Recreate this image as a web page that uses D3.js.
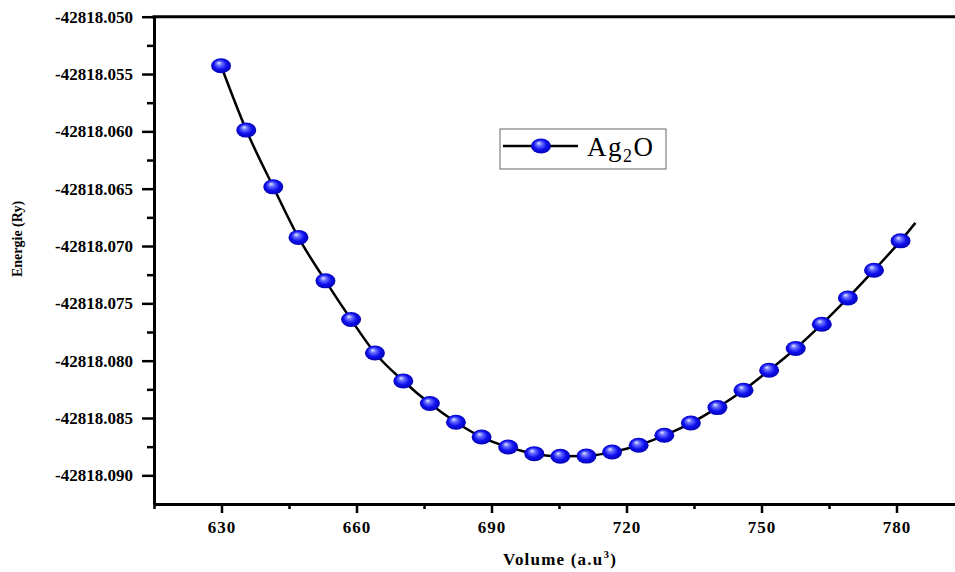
<!DOCTYPE html>
<html>
<head>
<meta charset="utf-8">
<script src="https://cdn.jsdelivr.net/npm/d3@7"></script>
<style>
  body { margin: 0; background: #fff; }
  svg { display: block; font-family: 'Liberation Serif', 'Times New Roman', serif; }
</style>
</head>
<body>
<div id="chart"></div>
<script>
// Ag2O energy vs volume
const volume = [629.9, 635.5, 641.5, 647.1, 653.1, 658.8, 664.1, 670.4, 676.3, 682.1,
    687.8, 693.7, 699.5, 705.3, 711.1, 716.8, 722.7, 728.4, 734.3, 740.2,
    746.0, 751.7, 757.6, 763.4, 769.2, 775.0, 780.9];
const energy = [-42818.05428, -42818.05989, -42818.06484, -42818.06925, -42818.07304,
    -42818.07641, -42818.07933, -42818.08177, -42818.08374, -42818.08537,
    -42818.08666, -42818.08753, -42818.08811, -42818.08834, -42818.08832,
    -42818.08797, -42818.08738, -42818.08651, -42818.08544, -42818.08409,
    -42818.08258, -42818.08084, -42818.07894, -42818.07682, -42818.07453,
    -42818.07211, -42818.06955];
// the fitted line runs a bit past the last point
const tailVolume = [784.2];
const tailEnergy = [-42818.06798];

const xTicks = [630, 660, 690, 720, 750, 780];
const xMinorTicks = [615, 645, 675, 705, 735, 765];
const yTicks = [-42818.050, -42818.055, -42818.060, -42818.065, -42818.070,
    -42818.075, -42818.080, -42818.085, -42818.090];
const yMinorTicks = [-42818.0525, -42818.0575, -42818.0625, -42818.0675, -42818.0725,
    -42818.0775, -42818.0825, -42818.0875];
const seriesName = 'Ag';

const width = 955, height = 572;
const serif = "'Liberation Serif', 'Times New Roman', serif";

const svg = d3.select('#chart').append('svg')
    .attr('width', width)
    .attr('height', height);

const x = d3.scaleLinear().domain([615, 793]).range([154, 955]);
const y = d3.scaleLinear().domain([-42818.0925, -42818.050]).range([504, 16.7]);

// gradient for the shiny markers
const defs = svg.append('defs');
const grad = defs.append('radialGradient')
    .attr('id', 'ball')
    .attr('cx', '50%').attr('cy', '50%').attr('r', '55%')
    .attr('fx', '38%').attr('fy', '30%');
grad.append('stop').attr('offset', '0%').attr('stop-color', '#e8ecff');
grad.append('stop').attr('offset', '25%').attr('stop-color', '#6a72ff');
grad.append('stop').attr('offset', '60%').attr('stop-color', '#1010f0');
grad.append('stop').attr('offset', '100%').attr('stop-color', '#0000a8');

// minor ticks
const xMinor = svg.append('g')
    .attr('transform', `translate(0,${y.range()[0]})`)
    .call(d3.axisBottom(x).tickValues(xMinorTicks).tickSize(5).tickFormat('').tickSizeOuter(0));
xMinor.select('.domain').remove();
xMinor.selectAll('line').attr('stroke-width', 2.5);

const yMinor = svg.append('g')
    .attr('transform', `translate(${x.range()[0]},0)`)
    .call(d3.axisLeft(y).tickValues(yMinorTicks).tickSize(7).tickFormat('').tickSizeOuter(0));
yMinor.select('.domain').remove();
yMinor.selectAll('line').attr('stroke-width', 2.5);

// major axes
const xAxis = svg.append('g')
    .attr('transform', `translate(0,${y.range()[0]})`)
    .attr('font-family', serif)
    .attr('font-size', 17)
    .call(d3.axisBottom(x).tickValues(xTicks).tickSize(9).tickPadding(8)
        .tickSizeOuter(0).tickFormat(d3.format('d')));
xAxis.attr('font-family', serif).attr('font-size', 17).attr('font-weight', 'bold');
xAxis.select('.domain').attr('stroke-width', 3);
xAxis.selectAll('line').attr('stroke-width', 2.5);
xAxis.selectAll('text')
    .attr('letter-spacing', 1)
    .attr('fill', '#000');

const yAxis = svg.append('g')
    .attr('transform', `translate(${x.range()[0]},0)`)
    .call(d3.axisLeft(y).tickValues(yTicks).tickSize(12).tickPadding(9)
        .tickSizeOuter(0).tickFormat(d => d.toFixed(3)));
yAxis.attr('font-family', serif).attr('font-size', 17).attr('font-weight', 'bold');
yAxis.select('.domain').attr('stroke-width', 3);
yAxis.selectAll('line').attr('stroke-width', 2.5);
yAxis.selectAll('text')
    .attr('fill', '#000');

// top frame line
svg.append('line')
    .attr('x1', x.range()[0] - 1.5).attr('x2', x.range()[1])
    .attr('y1', y(-42818.050)).attr('y2', y(-42818.050))
    .attr('stroke', '#000').attr('stroke-width', 3);

// axis titles
svg.append('text')
    .attr('x', 560).attr('y', 565)
    .attr('text-anchor', 'middle')
    .attr('font-size', 17)
    .attr('font-weight', 'bold')
    .attr('letter-spacing', 1.2)
    .text('Volume (a.u')
    .call(t => t.append('tspan').attr('font-size', 11).attr('dy', -7).text('3'))
    .call(t => t.append('tspan').attr('dy', 7).text(')'));

svg.append('text')
    .attr('transform', 'translate(22,239) rotate(-90)')
    .attr('text-anchor', 'middle')
    .attr('font-size', 14)
    .attr('font-weight', 'bold')
    .text('Energie (Ry)');

// curve + markers
const points = volume.map((v, i) => ({ v: v, e: energy[i] }));
const linePoints = points.concat(tailVolume.map((v, i) => ({ v: v, e: tailEnergy[i] })));

const line = d3.line()
    .x(d => x(d.v))
    .y(d => y(d.e))
    .curve(d3.curveMonotoneX);

svg.append('path')
    .datum(linePoints)
    .attr('d', line)
    .attr('fill', 'none')
    .attr('stroke', '#000')
    .attr('stroke-width', 2.5);

svg.append('g')
    .selectAll('ellipse')
    .data(points)
    .join('ellipse')
    .attr('cx', d => x(d.v))
    .attr('cy', d => y(d.e))
    .attr('rx', 10)
    .attr('ry', 7.5)
    .attr('fill', 'url(#ball)');

// legend
const legend = svg.append('g').attr('transform', 'translate(500,129)');
legend.append('rect')
    .attr('width', 166).attr('height', 40)
    .attr('fill', '#fff')
    .attr('stroke', '#666').attr('stroke-width', 1);
legend.append('line')
    .attr('x1', 3).attr('x2', 78)
    .attr('y1', 17).attr('y2', 17)
    .attr('stroke', '#000').attr('stroke-width', 2.5);
legend.append('ellipse')
    .attr('cx', 41).attr('cy', 17)
    .attr('rx', 10).attr('ry', 7.5)
    .attr('fill', 'url(#ball)');
legend.append('text')
    .attr('x', 87).attr('y', 27)
    .attr('font-size', 27)
    .attr('letter-spacing', 1.5)
    .text(seriesName)
    .call(t => t.append('tspan').attr('font-size', 18).attr('dy', 6).text('2'))
    .call(t => t.append('tspan').attr('dy', -6).text('O'));
</script>
</body>
</html>
